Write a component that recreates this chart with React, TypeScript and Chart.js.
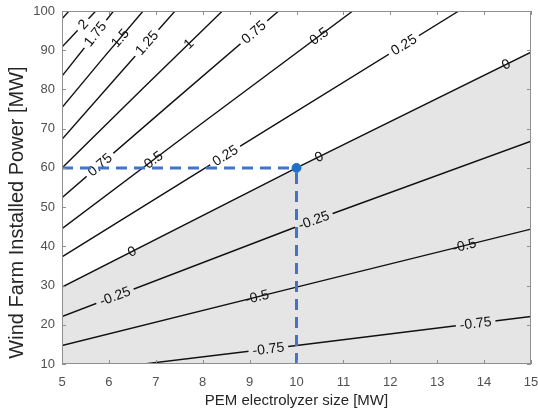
import React, { useEffect, useRef } from 'react';
import { Chart, registerables } from 'chart.js';

Chart.register(...registerables);

// ---- data ----
const xMin = 5;
const xMax = 15;
const yMin = 10;
const yMax = 100;
const xStep = 1;
const yStep = 10;

const contourLevels = [-0.75, -0.5, -0.25, 0, 0.25, 0.5, 0.75, 1, 1.25, 1.5, 1.75, 2, 2.25];
const contourX = [
  [6.75, 10, 15],
  [5, 10, 15],
  [5, 10, 15],
  [5, 10, 15],
  [5, 9, 13.46],
  [5, 8, 11.2],
  [5, 7.3, 9.62],
  [5, 6.7, 8.42],
  [5, 6.2, 7.41],
  [5, 5.85, 6.73],
  [5, 6.1],
  [5, 5.72],
  [5, 5.15],
];
const contourY = [
  [10, 14.7, 22.1],
  [14.7, 29.6, 44.4],
  [22.1, 45.0, 66.8],
  [29.6, 60.0, 89.5],
  [37.3, 67.0, 100],
  [44.5, 71.5, 100],
  [52.4, 76.2, 100],
  [60.0, 80.0, 100],
  [67.3, 83.6, 100],
  [75.4, 87.6, 100],
  [83.4, 100],
  [90.8, 100],
  [98.0, 100],
];

const labelLevels = [2, 1.75, 1.5, 1.25, 1, 0.75, 0.5, 0.25, 0, 0.75, 0.5, 0.25, 0, 0, -0.25, -0.25, -0.5, -0.5, -0.75, -0.75];
const labelX = [5.45, 5.71, 6.24, 6.81, 7.7, 9.09, 10.48, 12.29, 14.47, 5.81, 6.95, 8.48, 10.48, 6.49, 6.13, 10.37, 9.16, 13.58, 9.4, 13.82];
const labelGap = [true, true, false, true, false, true, false, true, false, true, false, true, false, false, true, true, false, false, true, true];

const guideHX = [5, 10];
const guideHY = [60, 60];
const guideVX = [10, 10];
const guideVY = [10, 60];
const designX = [10];
const designY = [60];

const xTitle = 'PEM electrolyzer size [MW]';
const yTitle = 'Wind Farm Installed Power [MW]';

// ---- styles ----
const FONT = "'Liberation Sans', Arial, sans-serif";
const GRAY_FILL = '#e5e5e5';
const LINE = '#111111';
const FRAME = '#8f8f8f';
const TICK_TEXT = '#505050';
const TITLE_TEXT = '#262626';
const GUIDE = '#4472c4';
const DOT = '#1f70c8';

const FIRST_CONTOUR = 3;

const contourLabelPlugin = {
  id: 'contourLabels',
  afterDatasetDraw(chart: any, args: any) {
    if (args.index !== FIRST_CONTOUR) return;
    const { ctx, chartArea: a } = chart;
    const xs = chart.scales.x;
    const ys = chart.scales.y;
    ctx.save();
    ctx.beginPath();
    ctx.rect(a.left, a.top, a.right - a.left, a.bottom - a.top);
    ctx.clip();
    ctx.font = `14px ${FONT}`;
    ctx.textAlign = 'center';
    ctx.textBaseline = 'middle';
    labelLevels.forEach((lev, i) => {
      const li = contourLevels.indexOf(lev);
      const cx = contourX[li];
      const cy = contourY[li];
      const xv = labelX[i];
      let k = 0;
      while (k < cx.length - 2 && xv > cx[k + 1]) k++;
      const t = (xv - cx[k]) / (cx[k + 1] - cx[k]);
      const yv = cy[k] + t * (cy[k + 1] - cy[k]);
      const px = xs.getPixelForValue(xv);
      const py = ys.getPixelForValue(yv);
      const ang = Math.atan2(
        ys.getPixelForValue(cy[k + 1]) - ys.getPixelForValue(cy[k]),
        xs.getPixelForValue(cx[k + 1]) - xs.getPixelForValue(cx[k])
      );
      const text = String(lev);
      const w = ctx.measureText(text).width;
      ctx.save();
      ctx.translate(px, py);
      ctx.rotate(ang);
      if (labelGap[i]) {
        ctx.fillStyle = lev < 0 ? GRAY_FILL : '#ffffff';
        ctx.fillRect(-w / 2 - 4, -6, w + 8, 12);
      }
      ctx.fillStyle = LINE;
      ctx.fillText(text, 0, 0.5);
      ctx.restore();
    });
    ctx.restore();
  },
};

const framePlugin = {
  id: 'matlabFrame',
  afterDraw(chart: any) {
    const { ctx, chartArea: a } = chart;
    const xs = chart.scales.x;
    const ys = chart.scales.y;
    ctx.save();
    ctx.strokeStyle = FRAME;
    ctx.lineWidth = 1;
    ctx.strokeRect(a.left + 0.5, a.top + 0.5, a.right - a.left - 1, a.bottom - a.top - 1);
    const tl = 4;
    ctx.beginPath();
    xs.ticks.forEach((tk: any) => {
      const p = Math.round(xs.getPixelForValue(tk.value)) + 0.5;
      ctx.moveTo(p, a.bottom);
      ctx.lineTo(p, a.bottom - tl);
      ctx.moveTo(p, a.top);
      ctx.lineTo(p, a.top + tl);
    });
    ys.ticks.forEach((tk: any) => {
      const p = Math.round(ys.getPixelForValue(tk.value)) + 0.5;
      ctx.moveTo(a.left, p);
      ctx.lineTo(a.left + tl, p);
      ctx.moveTo(a.right, p);
      ctx.lineTo(a.right - tl, p);
    });
    ctx.stroke();

    // y axis title (the reference places it below the axis centre)
    ctx.save();
    ctx.translate(17, (a.top + a.bottom) / 2 + 25);
    ctx.rotate(-Math.PI / 2);
    ctx.font = `20px ${FONT}`;
    ctx.fillStyle = TITLE_TEXT;
    ctx.textAlign = 'center';
    ctx.textBaseline = 'middle';
    ctx.fillText(yTitle, 0, 0);
    ctx.restore();
    ctx.restore();
  },
};

export default function App() {
  const ref = useRef<HTMLCanvasElement | null>(null);

  useEffect(() => {
    if (!ref.current) return;
    const overlay: any[] = [
      {
        type: 'scatter',
        data: designX.map((x, i) => ({ x, y: designY[i] })),
        pointRadius: 4.5,
        pointBackgroundColor: DOT,
        pointBorderColor: DOT,
        showLine: false,
      },
      {
        type: 'line',
        data: guideHX.map((x, i) => ({ x, y: guideHY[i] })),
        borderColor: GUIDE,
        borderWidth: 3,
        borderDash: [11, 7],
        pointRadius: 0,
        fill: false,
      },
      {
        type: 'line',
        data: guideVX.map((x, i) => ({ x, y: guideVY[i] })),
        borderColor: GUIDE,
        borderWidth: 3,
        borderDash: [11, 7],
        pointRadius: 0,
        fill: false,
      },
    ];
    const contours = contourLevels.map((lev, li) => ({
      type: 'line',
      data: contourX[li].map((x, i) => ({ x, y: contourY[li][i] })),
      borderColor: LINE,
      borderWidth: 1.4,
      pointRadius: 0,
      tension: 0,
      fill: lev === 0 ? 'start' : false,
      backgroundColor: GRAY_FILL,
    }));

    const chart = new Chart(ref.current, {
      type: 'line',
      data: { datasets: [...overlay, ...contours] as any },
      options: {
        responsive: false,
        animation: false,
        events: [],
        layout: { padding: { top: 11, right: 7, left: 0, bottom: 0 } },
        plugins: {
          legend: { display: false },
          tooltip: { enabled: false },
          filler: { drawTime: 'beforeDatasetsDraw' } as any,
        },
        scales: {
          x: {
            type: 'linear',
            min: xMin,
            max: xMax,
            afterFit: (s: any) => {
              s.height = 50;
              s.paddingLeft = 0;
              s.paddingRight = 0;
            },
            grid: { display: false, drawTicks: false },
            border: { display: false },
            ticks: { stepSize: xStep, padding: 11, color: TICK_TEXT, font: { family: FONT, size: 13 } },
            title: {
              display: true,
              text: xTitle,
              color: TITLE_TEXT,
              font: { family: FONT, size: 15 },
              padding: { top: 0, bottom: 4 },
            },
          },
          y: {
            type: 'linear',
            min: yMin,
            max: yMax,
            afterFit: (s: any) => {
              s.width = 62;
              s.paddingTop = 0;
              s.paddingBottom = 0;
            },
            grid: { display: false, drawTicks: false },
            border: { display: false },
            ticks: { stepSize: yStep, padding: 7, color: TICK_TEXT, font: { family: FONT, size: 13 } },
            title: { display: false, text: yTitle },
          },
        },
      },
      plugins: [contourLabelPlugin, framePlugin],
    });
    return () => chart.destroy();
  }, []);

  return (
    <div style={{ position: 'fixed', left: 0, top: 0, width: 538, height: 414, background: '#fff' }}>
      <canvas ref={ref} width={538} height={414} style={{ display: 'block' }} />
    </div>
  );
}
